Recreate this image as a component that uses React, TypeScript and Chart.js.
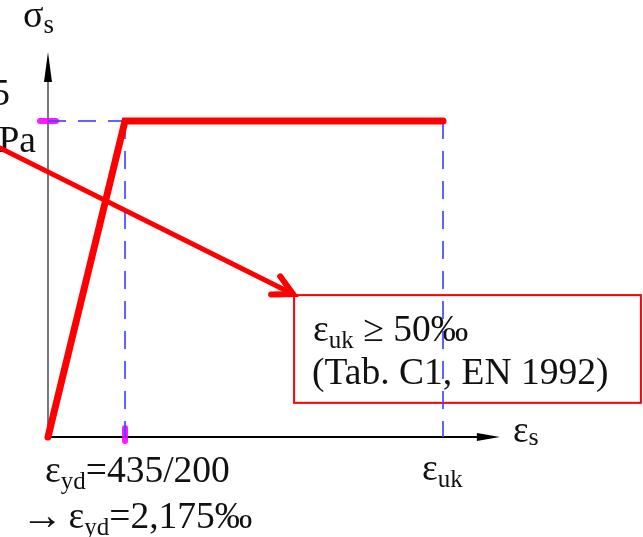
import { useEffect, useRef } from 'react';
import { Chart, registerables } from 'chart.js';

Chart.register(...registerables);

// Schematic bilinear design diagram for reinforcing steel (not to scale).
// Abscissa: strain as a fraction of ε_uk; ordinate: stress as a fraction of f_yd.
const strainKnots = [0, 0.195, 1];
const stressKnots = [0, 1, 1];

// Text shown on the diagram
const fydValue = '435';
const fydUnit = 'MPa';
const yieldStrainRatio = '435/200';
const yieldStrainValue = '2,175‰';
const ukMinimum = '50‰';
const ukSource = '(Tab. C1, EN 1992)';

const SERIF = '"Liberation Serif", "Times New Roman", serif';
const RED = '#ff0000';
const BLUE = 'rgba(70, 70, 255, 0.85)';
const MAGENTA = 'rgba(255, 0, 255, 0.9)';

type Run = { t: string; size: number; dy?: number };

function richWidth(ctx: CanvasRenderingContext2D, runs: Run[]) {
  let w = 0;
  for (const r of runs) {
    ctx.font = `${r.size}px ${SERIF}`;
    w += ctx.measureText(r.t).width;
  }
  return w;
}

function drawRich(
  ctx: CanvasRenderingContext2D,
  x: number,
  y: number,
  runs: Run[],
  align: 'left' | 'right' = 'left'
) {
  let cx = align === 'right' ? x - richWidth(ctx, runs) : x;
  ctx.textAlign = 'left';
  ctx.textBaseline = 'alphabetic';
  ctx.fillStyle = '#111';
  for (const r of runs) {
    ctx.font = `${r.size}px ${SERIF}`;
    ctx.fillText(r.t, cx, y + (r.dy ?? 0));
    cx += ctx.measureText(r.t).width;
  }
}

const M = 37.5; // main text size
const S = 25; // subscript size

const diagramDecor = {
  id: 'diagramDecor',
  beforeDatasetsDraw(chart: any) {
    const ctx: CanvasRenderingContext2D = chart.ctx;
    const xs = chart.scales.x;
    const ys = chart.scales.y;
    const px = (v: number) => xs.getPixelForValue(v);
    const py = (v: number) => ys.getPixelForValue(v);
    const x0 = px(0);
    const y0 = py(0);
    const xYd = px(strainKnots[1]);
    const xUk = px(strainKnots[2]);
    const yFy = py(stressKnots[1]);

    ctx.save();
    // vertical axis (σ_s)
    const yTip = py(1.218);
    ctx.strokeStyle = '#777';
    ctx.lineWidth = 2;
    ctx.beginPath();
    ctx.moveTo(x0, y0);
    ctx.lineTo(x0, yTip + 10);
    ctx.stroke();
    ctx.fillStyle = '#000';
    ctx.beginPath();
    ctx.moveTo(x0, yTip);
    ctx.lineTo(x0 - 4, yTip + 30);
    ctx.lineTo(x0 + 4, yTip + 30);
    ctx.closePath();
    ctx.fill();

    // horizontal axis (ε_s)
    const xTip = px(1.144);
    ctx.strokeStyle = '#000';
    ctx.lineWidth = 2;
    ctx.beginPath();
    ctx.moveTo(x0, y0);
    ctx.lineTo(xTip - 10, y0);
    ctx.stroke();
    ctx.beginPath();
    ctx.moveTo(xTip, y0);
    ctx.lineTo(xTip - 23, y0 - 4);
    ctx.lineTo(xTip - 23, y0 + 4);
    ctx.closePath();
    ctx.fill();

    // magenta tick marks at f_yd and ε_yd
    ctx.strokeStyle = MAGENTA;
    ctx.lineWidth = 6;
    ctx.lineCap = 'round';
    ctx.beginPath();
    ctx.moveTo(x0 - 8, yFy);
    ctx.lineTo(x0 + 8, yFy);
    ctx.moveTo(xYd, y0 - 9);
    ctx.lineTo(xYd, y0 + 4);
    ctx.stroke();

    // axis titles
    drawRich(ctx, x0 - 25, 27, [
      { t: 'σ', size: 38 },
      { t: 's', size: 27, dy: 6 },
    ]);
    drawRich(ctx, xTip + 13, y0 + 5, [
      { t: 'ε', size: 37 },
      { t: 's', size: 26, dy: 3 },
    ]);

    // f_yd label (left side)
    drawRich(
      ctx,
      x0 - 38,
      yFy - 16,
      [
        { t: 'f', size: M },
        { t: 'yd', size: S, dy: 7 },
        { t: ' = ' + fydValue, size: M },
      ],
      'right'
    );
    drawRich(ctx, x0 - 12, yFy + 31, [{ t: fydUnit, size: M }], 'right');

    // strain labels under the axis
    drawRich(ctx, x0 - 3, y0 + 45, [
      { t: 'ε', size: M },
      { t: 'yd', size: S, dy: 7 },
      { t: '=' + yieldStrainRatio, size: M },
    ]);
    drawRich(ctx, x0 - 27, y0 + 91, [
      { t: '→', size: 42, dy: 1 },
      { t: ' ', size: 22 },
      { t: 'ε', size: M },
      { t: 'yd', size: S, dy: 7 },
      { t: '=' + yieldStrainValue, size: M },
    ]);
    drawRich(ctx, xUk - 21, y0 + 43, [
      { t: 'ε', size: M },
      { t: 'uk', size: S, dy: 7 },
    ]);

    // callout box
    const bx0 = px(0.623);
    const by0 = py(0.449);
    const bx1 = px(1.501);
    const by1 = py(0.108);
    ctx.strokeStyle = RED;
    ctx.lineWidth = 2;
    ctx.strokeRect(bx0, by0, bx1 - bx0, by1 - by0);
    drawRich(ctx, bx0 + 19, by0 + 46, [
      { t: 'ε', size: M },
      { t: 'uk', size: S, dy: 7 },
      { t: ' ≥ ' + ukMinimum, size: M },
    ]);
    drawRich(ctx, bx0 + 18, by0 + 89, [{ t: ukSource, size: M }]);
    ctx.restore();
  },
  afterDatasetsDraw(chart: any) {
    const ctx: CanvasRenderingContext2D = chart.ctx;
    const xs = chart.scales.x;
    const ys = chart.scales.y;
    const px = (v: number) => xs.getPixelForValue(v);
    const py = (v: number) => ys.getPixelForValue(v);

    // leader arrow from the f_yd label to the callout box
    const sx = px(-0.1215);
    const sy = py(0.9146);
    const tx = px(0.623) - 1;
    const ty = py(0.449) - 1;
    const ang = Math.atan2(ty - sy, tx - sx);
    ctx.save();
    ctx.strokeStyle = RED;
    ctx.lineWidth = 5;
    ctx.lineCap = 'round';
    ctx.lineJoin = 'miter';
    ctx.beginPath();
    ctx.moveTo(sx - 10, sy - 10 * Math.tan(ang));
    ctx.lineTo(tx - 3 * Math.cos(ang), ty - 3 * Math.sin(ang));
    ctx.stroke();
    const len = 22;
    const spread = 0.48;
    ctx.lineWidth = 6;
    ctx.beginPath();
    ctx.moveTo(tx - len * Math.cos(ang - spread), ty - len * Math.sin(ang - spread));
    ctx.lineTo(tx, ty);
    ctx.lineTo(tx - len * Math.cos(ang + spread), ty - len * Math.sin(ang + spread));
    ctx.stroke();
    ctx.restore();
  },
};

export default function App() {
  const canvasRef = useRef<HTMLCanvasElement | null>(null);

  useEffect(() => {
    const canvas = canvasRef.current;
    if (!canvas) return;

    const steel = strainKnots.map((x, i) => ({ x, y: stressKnots[i] }));
    const dashed = {
      type: 'line' as const,
      borderColor: BLUE,
      borderWidth: 2,
      borderDash: [18, 12],
      pointRadius: 0,
      fill: false,
    };

    const chart = new Chart(canvas, {
      type: 'scatter',
      data: {
        datasets: [
          {
            ...dashed,
            label: 'f_yd level',
            data: [
              { x: strainKnots[0], y: stressKnots[1] },
              { x: strainKnots[1], y: stressKnots[1] },
            ],
            order: 3,
          },
          {
            ...dashed,
            label: 'ε_yd',
            data: [
              { x: strainKnots[1], y: stressKnots[1] },
              { x: strainKnots[1], y: stressKnots[0] },
            ],
            order: 3,
          },
          {
            ...dashed,
            label: 'ε_uk',
            data: [
              { x: strainKnots[2], y: stressKnots[2] },
              { x: strainKnots[2], y: stressKnots[0] },
            ],
            order: 3,
          },
          {
            type: 'line',
            label: 'σ_s(ε_s)',
            data: steel,
            borderColor: RED,
            borderWidth: 7,
            borderJoinStyle: 'miter',
            borderCapStyle: 'round',
            pointRadius: 0,
            fill: false,
            tension: 0,
            order: 1,
          },
        ],
      },
      options: {
        responsive: false,
        animation: false,
        events: [],
        layout: { padding: 0 },
        plugins: {
          legend: { display: false },
          tooltip: { enabled: false },
        },
        scales: {
          x: { type: 'linear', display: false, min: -0.1215, max: 1.5063 },
          y: { type: 'linear', display: false, min: -0.3165, max: 1.3829 },
        },
      },
      plugins: [diagramDecor],
    });

    return () => chart.destroy();
  }, []);

  return (
    <div style={{ position: 'absolute', left: 0, top: 0, width: 643, height: 537, background: '#fff' }}>
      <canvas ref={canvasRef} width={643} height={537} style={{ display: 'block' }} />
    </div>
  );
}
